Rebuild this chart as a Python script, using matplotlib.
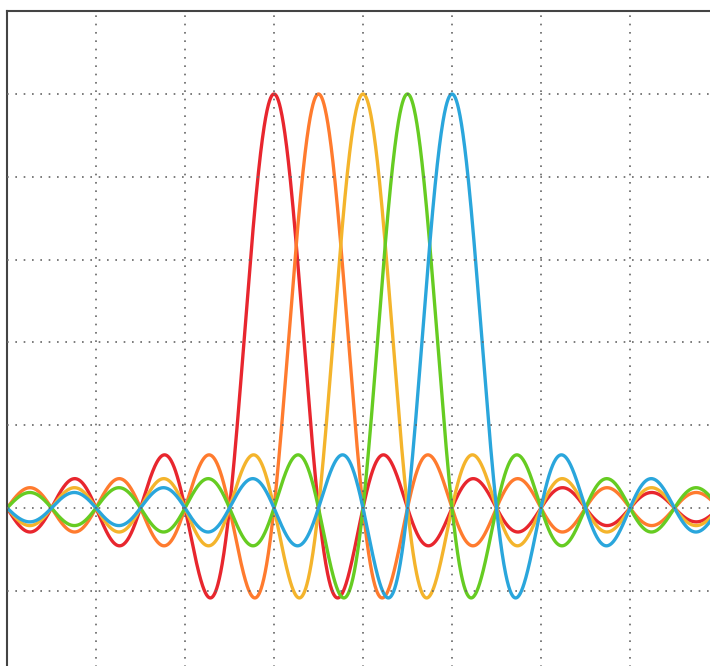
import numpy as np
import matplotlib.pyplot as plt

# subcarrier centres (units of carrier spacing) and colours
centers = [-2, -1, 0, 1, 2]
colors = ["#e8262e", "#ff7b2e", "#f4b42c", "#66cc22", "#2aa6dc"]

x_ticks = [-6, -4, -2, 0, 2, 4, 6]
y_ticks = [-0.2, 0.0, 0.2, 0.4, 0.6, 0.8, 1.0]

x = np.linspace(-8, 8, 2000)

fig = plt.figure(figsize=(7.1, 6.66), dpi=100)
# axes extend past the right and bottom edges, like the cropped original
ax = fig.add_axes([7 / 710, 1 - 673.6 / 666, 712 / 710, 662.4 / 666])

for c, col in zip(centers, colors):
    ax.plot(x, np.sinc(x - c), color=col, lw=2.4)

ax.set_xlim(-8, 8)
ax.set_ylim(-0.4, 1.2)
ax.set_xticks(x_ticks)
ax.set_yticks(y_ticks)
ax.tick_params(length=0, labelbottom=False, labelleft=False)
ax.set_axisbelow(False)
ax.grid(True, ls=(0, (1, 4)), color="#666666", lw=1.2)
for s in ax.spines.values():
    s.set_color("#444444")
    s.set_linewidth(1.5)

fig.savefig("out.png", dpi=100)
